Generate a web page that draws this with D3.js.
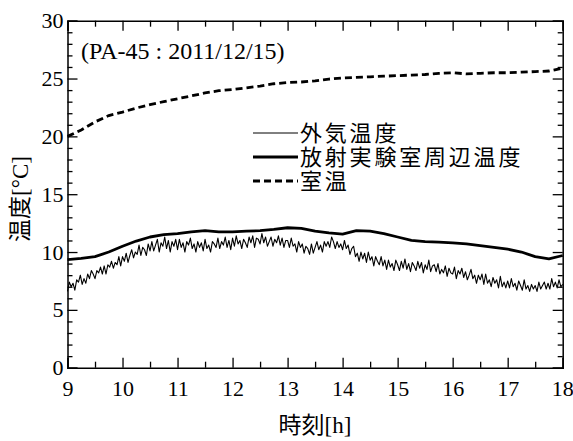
<!DOCTYPE html>
<html>
<head>
<meta charset="utf-8">
<script src="https://cdn.jsdelivr.net/npm/d3@7"></script>
<style>
  html, body { margin: 0; padding: 0; background: #fff; }
  svg { display: block; }
</style>
</head>
<body>
<svg id="chart" width="573" height="441"></svg>
<script>
const SERIF = "'Liberation Serif', 'Times New Roman', 'DejaVu Serif', serif";
const JP = "'Noto Sans CJK JP', 'Noto Sans', sans-serif";

// Hour ticks and temperature ticks
const hourTicks = [9, 10, 11, 12, 13, 14, 15, 16, 17, 18];
const hourMinor = [9.5, 10.5, 11.5, 12.5, 13.5, 14.5, 15.5, 16.5, 17.5];
const tempTicks = [0, 5, 10, 15, 20, 25, 30];
const tempMinor = [1, 2, 3, 4, 6, 7, 8, 9, 11, 12, 13, 14, 16, 17, 18, 19, 21, 22, 23, 24, 26, 27, 28, 29];

// Outdoor air temperature, 2-minute samples from 9:00 to 18:00 (one row per hour)
const outdoorTemp = [
  6.6, 7.4, 7.0, 7.3, 6.7, 7.6, 7.4, 8.0, 7.2, 7.7, 7.3, 8.1, 7.7, 8.4, 8.1, 7.7, 8.4, 8.2, 8.7, 8.1, 8.8, 8.1, 8.9, 8.7, 9.2, 8.6, 9.1, 8.9, 9.6, 8.8,
  9.6, 9.2, 9.9, 9.1, 9.7, 10.2, 9.5, 10.0, 9.8, 10.6, 9.7, 10.4, 10.2, 9.7, 10.7, 10.1, 10.9, 10.1, 10.6, 11.1, 10.0, 10.8, 10.5, 11.3, 10.3, 11.0, 10.0, 10.9, 10.5, 11.1,
  10.2, 11.1, 10.4, 10.8, 10.0, 10.9, 10.6, 11.2, 10.3, 10.7, 10.0, 10.9, 10.4, 10.8, 10.1, 11.1, 10.3, 10.6, 10.0, 10.9, 10.7, 10.4, 11.2, 10.3, 10.9, 10.6, 11.3, 10.4, 11.0, 10.2,
  11.2, 10.5, 11.4, 10.7, 11.0, 10.3, 11.1, 10.8, 10.4, 11.3, 10.8, 11.4, 10.4, 11.2, 11.1, 10.7, 11.6, 10.8, 11.3, 10.5, 10.9, 11.3, 10.5, 11.1, 10.8, 11.4, 10.6, 11.2, 10.4, 11.0,
  11.0, 10.4, 11.2, 10.5, 10.7, 10.0, 10.9, 10.4, 10.7, 9.9, 10.5, 10.3, 9.8, 10.7, 9.9, 10.4, 10.9, 10.2, 10.6, 10.0, 10.9, 10.5, 10.9, 10.4, 11.3, 10.9, 10.3, 10.9, 10.4, 10.7,
  10.2, 11.0, 10.3, 10.6, 9.8, 10.3, 10.5, 9.6, 9.9, 9.2, 10.0, 9.4, 9.9, 9.1, 10.0, 9.3, 9.6, 8.8, 9.6, 9.2, 8.9, 9.6, 8.8, 9.3, 8.5, 9.3, 8.7, 9.0, 8.4, 9.3,
  8.9, 8.4, 9.2, 8.6, 9.4, 8.5, 9.0, 8.3, 9.1, 8.8, 8.4, 9.2, 8.6, 9.1, 8.2, 8.9, 8.5, 9.3, 8.3, 8.8, 8.9, 8.3, 9.0, 8.1, 8.5, 8.2, 8.8, 7.9, 8.6, 8.2,
  8.1, 8.7, 7.7, 8.4, 8.1, 8.6, 7.8, 8.3, 7.6, 8.0, 8.5, 7.7, 8.0, 7.3, 8.0, 7.6, 8.1, 7.2, 8.1, 7.3, 7.6, 7.0, 7.8, 7.3, 7.6, 6.9, 7.9, 7.0, 7.4, 6.9,
  7.5, 6.9, 7.7, 7.0, 7.3, 6.7, 7.5, 7.1, 6.7, 7.6, 6.8, 7.1, 6.6, 7.2, 6.8, 7.1, 6.6, 7.4, 6.8, 7.1, 7.4, 6.8, 7.3, 6.8, 7.7, 7.0, 7.4, 6.9, 7.6, 7.0,
  7.2
];
const outdoorStepH = 1 / 30;

// Temperature around the radiation lab, 15-minute samples
const labTemp = [
  9.35, 9.45, 9.6, 10.0, 10.5, 10.95, 11.3, 11.5, 11.6, 11.75, 11.85, 11.75,
  11.75, 11.8, 11.85, 11.95, 12.1, 12.05, 11.8, 11.65, 11.55, 11.85, 11.8, 11.6,
  11.3, 11.0, 10.9, 10.85, 10.8, 10.7, 10.55, 10.4, 10.25, 10.0, 9.6, 9.4, 9.7
];
// Room temperature, 15-minute samples
const roomTemp = [
  20.0, 20.55, 21.25, 21.8, 22.1, 22.45, 22.75, 23.0, 23.25, 23.5, 23.75, 23.95,
  24.05, 24.2, 24.35, 24.55, 24.65, 24.7, 24.8, 24.95, 25.05, 25.1, 25.15, 25.2,
  25.25, 25.3, 25.35, 25.45, 25.5, 25.4, 25.45, 25.5, 25.5, 25.55, 25.6, 25.65, 25.9
];
const slowStepH = 0.25;

const seriesNames = ["外気温度", "放射実験室周辺温度", "室温"];
const noteText = "(PA-45 : 2011/12/15)";

const svg = d3.select("#chart");
const x = d3.scaleLinear().domain([9, 18]).range([67.5, 562.7]);
const y = d3.scaleLinear().domain([0, 30]).range([367.7, 20.7]);

const toPts = (arr, step) => arr.map((v, i) => [9 + i * step, v]);
const line = d3.line().x(d => x(d[0])).y(d => y(d[1]));

const plot = svg.append("g");
plot.append("path").datum(toPts(outdoorTemp, outdoorStepH))
  .attr("d", line).attr("fill", "none").attr("stroke", "#000").attr("stroke-width", 1.1)
  .attr("stroke-linejoin", "round");
plot.append("path").datum(toPts(labTemp, slowStepH))
  .attr("d", line).attr("fill", "none").attr("stroke", "#000").attr("stroke-width", 2.8)
  .attr("stroke-linejoin", "round");
plot.append("path").datum(toPts(roomTemp, slowStepH))
  .attr("d", line).attr("fill", "none").attr("stroke", "#000").attr("stroke-width", 2.8)
  .attr("stroke-dasharray", "7,4");

// Axes with inward ticks on all four sides
function styleAxis(g) {
  g.selectAll(".domain").attr("stroke", "#000").attr("stroke-width", 1.5);
  g.selectAll(".tick line").attr("stroke", "#000").attr("stroke-width", 1.3);
}
function styleLabels(size) {
  return g => {
    g.attr("font-family", SERIF).attr("font-size", size);
    g.selectAll("text").attr("fill", "#000");
  };
}
const bottomAxis = svg.append("g").attr("transform", `translate(0,${y(0)})`)
  .call(d3.axisBottom(x).tickValues(hourTicks).tickSize(-10).tickPadding(13).tickFormat(d3.format("d")))
  .call(styleAxis).call(styleLabels(22));
// keep the last hour label inside the page edge
bottomAxis.selectAll(".tick text").filter(d => d === 18).attr("text-anchor", "end").attr("x", 10.5);
svg.append("g").attr("transform", `translate(0,${y(0)})`)
  .call(d3.axisBottom(x).tickValues(hourMinor).tickSize(-6).tickFormat(""))
  .call(styleAxis).select(".domain").remove();
svg.append("g").attr("transform", `translate(0,${y(30)})`)
  .call(d3.axisTop(x).tickValues(hourTicks).tickSize(-10).tickFormat(""))
  .call(styleAxis);
svg.append("g").attr("transform", `translate(0,${y(30)})`)
  .call(d3.axisTop(x).tickValues(hourMinor).tickSize(-6).tickFormat(""))
  .call(styleAxis).select(".domain").remove();

svg.append("g").attr("transform", `translate(${x(9)},0)`)
  .call(d3.axisLeft(y).tickValues(tempTicks).tickSize(-10).tickPadding(4).tickFormat(d3.format("d")))
  .call(styleAxis).call(styleLabels(22));
svg.append("g").attr("transform", `translate(${x(9)},0)`)
  .call(d3.axisLeft(y).tickValues(tempMinor).tickSize(-5).tickFormat(""))
  .call(styleAxis).select(".domain").remove();
svg.append("g").attr("transform", `translate(${x(18)},0)`)
  .call(d3.axisRight(y).tickValues(tempTicks).tickSize(-10).tickFormat(""))
  .call(styleAxis);
svg.append("g").attr("transform", `translate(${x(18)},0)`)
  .call(d3.axisRight(y).tickValues(tempMinor).tickSize(-5).tickFormat(""))
  .call(styleAxis).select(".domain").remove();

// Date annotation
svg.append("text").attr("x", 81).attr("y", 59)
  .attr("font-family", SERIF).attr("font-size", 24).text(noteText);

// Legend
const legend = svg.append("g");
const legendRows = [
  { w: 1, dash: null },
  { w: 2.8, dash: null },
  { w: 2.8, dash: "7,4" }
];
legendRows.forEach((r, i) => {
  const yy = 133 + i * 24;
  legend.append("line").attr("x1", 253).attr("x2", 298).attr("y1", yy).attr("y2", yy)
    .attr("stroke", "#000").attr("stroke-width", r.w).attr("stroke-dasharray", r.dash);
  legend.append("text").attr("x", 300).attr("y", yy + 8)
    .attr("font-family", JP).attr("font-size", 22).attr("letter-spacing", 2.8)
    .text(seriesNames[i]);
});

// Axis titles
const xt = svg.append("text").attr("x", 315).attr("y", 433)
  .attr("text-anchor", "middle").attr("font-size", 23).attr("font-family", JP);
xt.append("tspan").text("時刻");
xt.append("tspan").attr("font-family", SERIF).text("[h]");

const yt = svg.append("text")
  .attr("transform", "translate(28,199) rotate(-90)")
  .attr("text-anchor", "middle").attr("font-size", 23).attr("font-family", JP);
yt.append("tspan").text("温度");
yt.append("tspan").attr("font-family", SERIF).attr("font-size", 23).text("[°C]");
</script>
</body>
</html>
